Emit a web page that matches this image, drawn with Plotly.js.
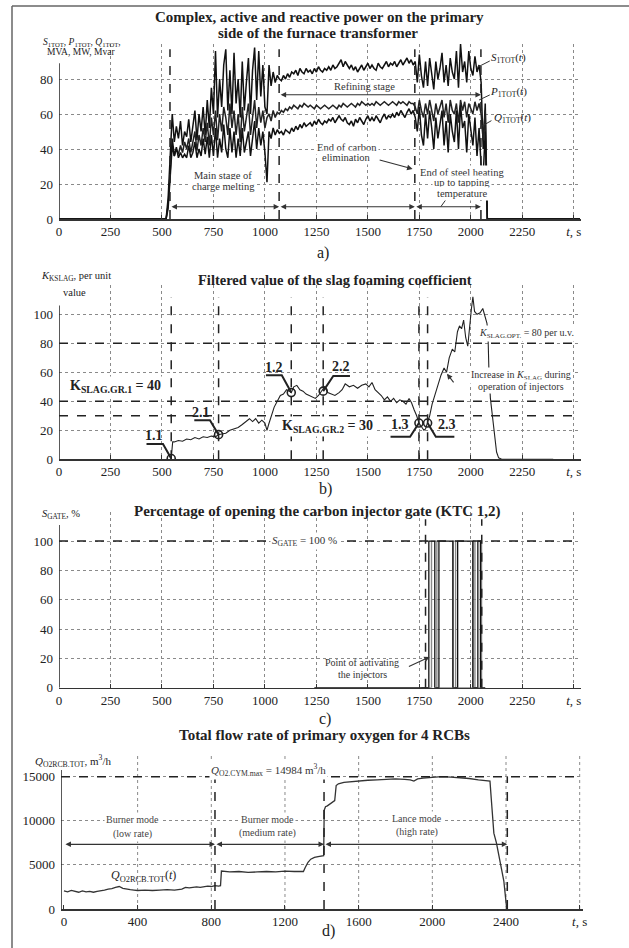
<!DOCTYPE html>
<html><head><meta charset="utf-8">
<script src="https://cdn.plot.ly/plotly-3.0.1.min.js"></script>
<style>html,body{margin:0;padding:0;background:#fff}#chart{width:629px;height:948px}</style>
</head><body><div id="chart"></div>
<script>
// ---------- Panel a: power on the primary side ----------
const timeA = [0,510,520,530,540,550,560,570,580,590,600,610,620,630,640,650,660,670,680,690,700,710,720,730,740,750,760,770,780,790,800,810,820,830,840,850,860,870,880,890,900,910,920,930,940,950,960,970,980,990,1000,1010,1020,1030,1040,1050,1060,1070,1080,1090,1100,1110,1120,1130,1140,1150,1160,1170,1180,1190,1200,1210,1220,1230,1240,1250,1260,1270,1280,1290,1300,1310,1320,1330,1340,1350,1360,1370,1380,1390,1400,1410,1420,1430,1440,1450,1460,1470,1480,1490,1500,1510,1520,1530,1540,1550,1560,1570,1580,1590,1600,1610,1620,1630,1640,1650,1660,1670,1680,1690,1700,1710,1720,1730,1740,1750,1760,1770,1780,1790,1800,1810,1820,1830,1840,1850,1860,1870,1880,1890,1900,1910,1920,1930,1940,1950,1960,1970,1980,1990,2000,2010,2020,2030,2040,2050,2060,2070,2080,2530];
const sTot = [0,0,
 0,12,35,60,44,53,46,56,42,50,
 47,57,44,52,62,45,60,50,64,48,
 68,52,75,60,96,58,80,64,88,97,
 62,85,60,95,66,80,58,90,62,78,
 92,60,85,98,68,96,70,88,64,60,
 88,76,84,78,82,80,79,82,80,83,
 81,84,83,85,82,86,84,83,86,84,
 85,83,86,84,87,85,84,86,85,87,
 85,88,86,87,89,91,87,90,88,86,
 88,85,87,84,86,88,85,87,89,86,
 88,86,85,89,87,86,88,90,87,89,
 88,90,87,89,91,88,90,92,89,91,
 88,90,78,94,82,75,90,76,92,84,
 74,90,80,86,95,78,88,76,92,84,
 80,96,75,100,84,90,78,96,86,82,
 93,84,88,78,40,66,0,
 0];
const pTot = [0,0,
 0,6,22,42,36,40,37,42,38,44,
 40,46,38,45,50,39,48,42,52,44,
 55,42,58,48,62,45,60,50,64,58,
 48,66,52,62,48,60,44,64,50,58,
 66,48,60,68,52,64,55,62,52,58,
 60,56,62,58,61,60,62,61,63,62,
 64,63,65,64,63,65,64,66,65,64,
 65,64,63,65,64,63,64,65,64,63,
 64,65,64,63,65,64,66,65,64,65,
 66,65,64,66,65,67,66,65,66,65,
 66,65,67,66,65,66,67,66,65,66,
 67,66,65,67,66,67,66,65,67,66,
 66,64,60,68,62,58,66,60,68,62,
 56,66,60,64,68,58,66,55,68,62,
 60,66,55,68,62,67,58,66,63,60,
 67,62,66,60,45,62,0,
 0];
const qTot = [0,0,
 0,8,26,46,36,41,35,38,35,37,
 35,42,35,38,44,35,40,36,46,37,
 47,35,48,36,52,35,46,38,54,40,
 35,52,38,50,35,46,36,52,38,44,
 50,36,48,56,40,52,42,50,38,21,
 50,46,52,48,51,49,50,48,51,50,
 49,52,50,53,51,54,52,55,53,54,
 55,53,56,54,57,55,54,56,55,57,
 56,58,55,57,59,57,56,58,55,54,
 56,53,57,55,58,56,54,57,59,56,
 58,56,59,57,55,58,60,57,59,58,
 60,58,61,59,62,60,58,61,63,60,
 62,58,50,64,48,42,60,46,62,52,
 40,58,46,54,62,42,56,38,60,50,
 44,62,40,65,52,56,38,60,50,42,
 58,36,52,30,25,50,0,
 0];
const stageMarksA = [539, 1069, 1728, 2049];

// ---------- Panel b: slag foaming coefficient ----------
const timeB = [545,552,560,580,600,620,640,660,680,700,720,740,760,775,790,810,830,850,870,890,910,925,940,955,970,985,1000,1010,1018,1030,1045,1060,1075,1090,1105,1118,1128,1140,1155,1170,1185,1200,1215,1230,1245,1260,1275,1290,1305,1320,1340,1360,1375,1390,1410,1430,1450,1470,1490,1505,1520,1535,1550,1565,1580,1595,1610,1625,1640,1655,1670,1685,1700,1712,1725,1737,1748,1760,1772,1780,1790,1800,1812,1825,1840,1855,1870,1882,1895,1910,1922,1935,1945,1955,1965,1975,1985,1995,2003,2010,2018,2030,2045,2058,2068,2078,2083,2088,2095,2105,2115,2125,2135,2150,2400];
const kSlag = [0.5,12,12,13,12.5,14,13.5,15,14,15.5,15,16,15.5,17,17.5,18,20,21,22,24,26,28,26,28,25,27,25,20,24,30,36,40,44,45,48,47,46,50,51,48,47,45,44,43,42,44,47,50,46,45,44,46,48,52,50,51,49,51,52,50,53,48,46,44,41,43,40,42,39,41,40,38,42,39,34,30,25,22,20,21,25,30,38,44,50,58,63,60,70,76,74,88,92,90,96,84,78,94,104,112,102,100,101,104,99,94,88,60,42,28,14,5,1,0,0];
const pointT = [545, 775, 1128, 1283, 1748, 1790];
const pointK = [0.5, 17, 46, 47, 25, 25];
const pointLabels = ['1.1','2.1','1.2','2.2','1.3','2.3'];
const kThresholds = [80, 40, 30];

// ---------- Panel c: injector gate ----------
const gateT1 = [1240,1796,1825,1845,1913,1936,2010,2034,2047,2070];
const gate1  = [0,100,0,100,0,100,0,100,0,0];
const gateT2 = [1760,1809,1835,1913,1926,2010,2020,2047,2052];
const gate2  = [0,100,0,100,0,100,0,100,0];
const gateMarks = [1780, 2053];
const gateFull = 100;

// ---------- Panel d: oxygen flow ----------
const timeD = [0,20,40,60,80,100,120,140,160,180,200,220,240,260,280,300,320,340,360,380,400,440,480,520,560,600,640,660,680,700,720,740,760,780,800,820,840,850,855,870,900,950,1000,1050,1100,1150,1200,1250,1290,1300,1310,1325,1340,1360,1380,1400,1410,1413,1420,1430,1445,1460,1470,1478,1490,1520,1560,1600,1650,1700,1750,1800,1850,1880,1900,1920,1950,2000,2050,2100,2150,2200,2250,2290,2313,2320,2327,2334,2348,2360,2367,2376,2388,2398,2403];
const qO2 = [2050,1950,2100,2000,1900,2050,1950,2000,1900,2000,2050,2150,2250,2300,2450,2550,2350,2250,2200,2150,2100,2150,2100,2150,2200,2150,2250,2450,2400,2450,2500,2450,2550,2600,2550,2650,2600,2650,4300,4250,4200,4250,4150,4200,4250,4200,4300,4250,4200,4250,4700,5300,5650,5850,5950,6000,6050,11200,11600,11700,11900,12100,12300,14000,14200,14350,14450,14550,14600,14650,14700,14750,14700,14650,14500,14750,14850,14950,15000,14950,14900,14800,14650,14550,14500,12500,10500,8600,7500,6200,5600,4800,3200,1200,200];
const modeMarksD = [820, 1412, 2407];
const qMax = 14984;

// ---------- ticks ----------
const xTicksA = [0,250,500,750,1000,1250,1500,1750,2000,2250,2500];
const xTickTextA = ['0','250','500','750','1000','1250','1500','1750','2000','2250','<i>t</i>, s'];
const yTicksA = [0,20,40,60,80,100];
const yTickTextA = ['0','20','40','60','80',' '];
const yTicksBC = [0,20,40,60,80,100,120];
const yTickTextBC = ['0','20','40','60','80','100',' '];
const xTicksD = [0,400,800,1200,1600,2000,2400,2800];
const xTickTextD = ['0','400','800','1200','1600','2000','2400','<i>t</i>, s'];
const yTicksD = [0,5000,10000,15000];
const yTickTextD = ['0','5000','10000','15000'];

// ---------- layout helpers ----------
const W = 629, H = 948;
const SERIF = 'Liberation Serif, Times New Roman, serif';
const INK = '#222';
const px = v => v / W;
const py = v => 1 - v / H;

function xAxis(domainPx, range, tv, tt, anchor, grid) {
  return {domain:[px(domainPx[0]), px(domainPx[1])], range:range, anchor:anchor,
    tickmode:'array', tickvals:tv, ticktext:tt, showgrid:grid, gridcolor:'#8a8a8a', griddash:'dot', gridwidth:1,
    zeroline:false, showline:true, linecolor:'#333', linewidth:1.5, ticks:'inside', ticklen:4, tickcolor:'#333',
    tickfont:{family:SERIF, size:13, color:INK}, ticklabelstandoff:0, fixedrange:true};
}
function yAxis(domainPx, range, tv, tt, anchor) {
  return {domain:[py(domainPx[1]), py(domainPx[0])], range:range, anchor:anchor,
    tickmode:'array', tickvals:tv, ticktext:tt, showgrid:true, gridcolor:'#8a8a8a', griddash:'dot', gridwidth:1,
    zeroline:false, showline:false, ticks:'', tickfont:{family:SERIF, size:13, color:INK}, ticklabelstandoff:5, fixedrange:true};
}

const shapes = [];
const ann = [];
function line(xr, yr, x0, y0, x1, y1, opt) {
  shapes.push(Object.assign({type:'line', xref:xr, yref:yr, x0:x0, y0:y0, x1:x1, y1:y1,
    line:{color:'#222', width:1.5}}, opt||{}));
}
function dashed(xr, yr, x0, y0, x1, y1) {
  line(xr, yr, x0, y0, x1, y1, {line:{color:'#222', width:1.5, dash:'dash'}});
}
function txt(xr, yr, x, y, text, size, opt) {
  ann.push(Object.assign({xref:xr, yref:yr, x:x, y:y, text:text, showarrow:false,
    font:{family:SERIF, size:size, color:INK}, xanchor:'center', yanchor:'middle'}, opt||{}));
}
function ptxt(x, y, text, size, opt) { txt('paper', 'paper', px(x), py(y), text, size, opt); }
function arrow(xr, yr, x0, y0, x1, y1, both) {
  const a = {xref:xr, yref:yr, axref:xr, ayref:yr, x:x1, y:y1, ax:x0, ay:y0, text:'', showarrow:true,
    arrowhead:2, arrowsize:1, arrowwidth:1.1, arrowcolor:'#333', standoff:0};
  if (both) { a.arrowside = 'end+start'; a.startarrowhead = 2; a.startarrowsize = 1; a.startstandoff = 0; }
  ann.push(a);
}
const greyTxt = {font:{family:SERIF, size:10.5, color:'#333'}};
const whiteBg = {bgcolor:'white'};

// frame
line('paper','paper', px(12), py(6), px(12), 0, {line:{color:'#666', width:1.5}});
line('paper','paper', px(12), py(6), 1, py(6), {line:{color:'#666', width:1.5}});

// ----- panel a decorations -----
line('x','y', 0, 0, 0, 89);
stageMarksA.forEach(t => dashed('x','y', t, 0, t, 97));
arrow('x','y', stageMarksA[0], 7, stageMarksA[1], 7, true);
arrow('x','y', stageMarksA[1], 7, stageMarksA[2], 7, true);
arrow('x','y', stageMarksA[2], 7, stageMarksA[3], 7, true);
arrow('x','y', stageMarksA[1], 71, stageMarksA[3], 71, true);
arrow('x','y', 1550, 34, 1717, 28.6, false);
line('x','y', 2092, 90.3, 2028, 86.5, {line:{color:'#333', width:1}});
line('x','y', 2092, 70.9, 2040, 68, {line:{color:'#333', width:1}});
line('x','y', 2100, 56.2, 2044, 52.4, {line:{color:'#333', width:1}});
line('x','y', 1878, 10.9, 1854, 7, {line:{color:'#333', width:1}});
ptxt(319, 17, '<b>Complex, active and reactive power on the primary</b>', 15);
ptxt(318, 33, '<b>side of the furnace transformer</b>', 15);
ptxt(82, 43, '<i>S</i><sub>1TOT</sub>, <i>P</i><sub>1TOT</sub>, <i>Q</i><sub>1TOT</sub>,', 9.5);
ptxt(81, 52, 'MVA, MW, Mvar', 9.5);
ptxt(323, 253, 'a)', 16);
txt('x','y', 797, 24.6, 'Main stage of', 10.5, Object.assign({}, greyTxt, whiteBg));
txt('x','y', 797, 18.3, 'charge melting', 10.5, Object.assign({}, greyTxt, whiteBg));
txt('x','y', 1485, 75.6, 'Refining stage', 10.5, greyTxt);
txt('x','y', 1398, 41, 'End of carbon', 10, Object.assign({}, greyTxt, whiteBg));
txt('x','y', 1398, 35.2, 'elimination', 10, Object.assign({}, greyTxt, whiteBg));
txt('x','y', 1959, 26.7, 'End of steel heating', 10.5, Object.assign({}, greyTxt, whiteBg));
txt('x','y', 1959, 20.6, 'up to tapping', 10.5, Object.assign({}, greyTxt, whiteBg));
txt('x','y', 1959, 14.4, 'temperature', 10.5, Object.assign({}, greyTxt, whiteBg));
txt('x','y', 2185, 92, '<i>S</i><sub>1TOT</sub>(<i>t</i>)', 11);
txt('x','y', 2185, 72.7, '<i>P</i><sub>1TOT</sub>(<i>t</i>)', 11);
txt('x','y', 2200, 57.7, '<i>Q</i><sub>1TOT</sub>(<i>t</i>)', 11);

// ----- panel b decorations -----
line('x2','y2', 0, 0, 0, 106);
kThresholds.forEach(k => dashed('x2','y2', 0, k, 2535, k));
pointT.forEach(t => dashed('x2','y2', t, 0, t, 112));
const brackets = [
  [[425,10.5],[505,10.5],[pointT[0],pointK[0]]],
  [[657,27],[733,27],[pointT[1],pointK[1]]],
  [[1005,58],[1082,58],[pointT[2],pointK[2]]],
  [[pointT[3],pointK[3]],[1332,57.5],[1413,57.5]],
  [[1610,15.6],[1705,15.6],[pointT[4],pointK[4]]],
  [[pointT[5],pointK[5]],[1830,15.6],[1920,15.6]]
];
brackets.forEach(b => shapes.push({type:'path', xref:'x2', yref:'y2',
  path:'M '+b[0][0]+','+b[0][1]+' L '+b[1][0]+','+b[1][1]+' L '+b[2][0]+','+b[2][1],
  line:{color:'#222', width:2}}));
const labelPos = [[461,16.5],[688,32.4],[1044,63.5],[1370,64],[1655,23.8],[1885,23.8]];
pointLabels.forEach((s,i) => txt('x2','y2', labelPos[i][0], labelPos[i][1], '<b>'+s+'</b>', 14));
txt('x2','y2', 272, 50, '<b>K<sub>SLAG.GR.1</sub> = 40</b>', 14, whiteBg);
txt('x2','y2', 1302, 22.8, '<b>K<sub>SLAG.GR.2</sub> = 30</b>', 14, whiteBg);
txt('x2','y2', 2272, 87, '<i>K</i><sub>SLAG.OPT.</sub> = 80 per u.v.', 10, Object.assign({}, {font:{family:SERIF,size:10,color:'#333'}}, whiteBg));
txt('x2','y2', 2246, 58, 'Increase in <i>K</i><sub>SLAG</sub> during', 10, Object.assign({}, {font:{family:SERIF,size:10,color:'#333'}}, whiteBg));
txt('x2','y2', 2246, 50, 'operation of injectors', 10, Object.assign({}, {font:{family:SERIF,size:10,color:'#333'}}, whiteBg));
arrow('x2','y2', 1922, 52, 1884, 59, false);
ptxt(335, 280, '<b>Filtered value of the slag foaming coefficient</b>', 14.5);
ptxt(76, 276, '<i>K</i><sub>KSLAG</sub>, per unit', 10.5);
ptxt(74, 292, 'value', 10.5);
ptxt(325, 489, 'b)', 16);

// ----- panel c decorations -----
line('x3','y3', 0, 0, 0, 111);
dashed('x3','y3', 0, gateFull, 2535, gateFull);
gateMarks.forEach(t => dashed('x3','y3', t, 0, t, 115));
txt('x3','y3', 1194, gateFull, '<i>S</i><sub>GATE</sub> = 100 %', 11, Object.assign({}, {font:{family:SERIF,size:11,color:'#333'}}, whiteBg));
txt('x3','y3', 1472, 17, 'Point of activating', 10, {font:{family:SERIF,size:10,color:'#333'}});
txt('x3','y3', 1472, 8.7, 'the injectors', 10, {font:{family:SERIF,size:10,color:'#333'}});
arrow('x3','y3', 1692, 14, 1800, 21, false);
ptxt(317, 511, '<b>Percentage of opening the carbon injector gate (KTC 1,2)</b>', 15);
ptxt(61, 514, '<i>S</i><sub>GATE</sub>, %', 10.5);
ptxt(325, 719, 'c)', 16);

// ----- panel d decorations -----
line('x4','y4', -16, 0, -16, 15760);
xTicksD.slice(1).forEach(t => line('x4','y4', t, 0, t, 17690, {layer:'below', line:{color:'#8a8a8a', width:1, dash:'dot'}}));
dashed('x4','y4', -16, qMax, 2818, qMax);
modeMarksD.forEach(t => dashed('x4','y4', t, 0, t, 15000));
arrow('x4','y4', 0, 7330, modeMarksD[0], 7330, true);
arrow('x4','y4', modeMarksD[0], 7330, modeMarksD[1], 7330, true);
arrow('x4','y4', modeMarksD[1], 7330, modeMarksD[2], 7330, true);
const modeTxt = Object.assign({}, {font:{family:SERIF,size:10,color:'#444'}}, whiteBg);
txt('x4','y4', 370, 10100, 'Burner mode', 10, modeTxt);
txt('x4','y4', 370, 8470, '(low rate)', 10, modeTxt);
txt('x4','y4', 1105, 10170, 'Burner mode', 10, modeTxt);
txt('x4','y4', 1105, 8580, '(medium rate)', 10, modeTxt);
txt('x4','y4', 1915, 10317, 'Lance mode', 10, modeTxt);
txt('x4','y4', 1915, 8764, '(high rate)', 10, modeTxt);
txt('x4','y4', 434, 3770, '<i>Q</i><sub>O2RCB.TOT</sub>(<i>t</i>)', 12);
txt('x4','y4', 1113, 15760, '<i>Q</i><sub>O2.CYM.max</sub> = 14984 m<sup>3</sup>/h', 11, Object.assign({}, {font:{family:SERIF,size:11,color:'#333'}}, whiteBg));
ptxt(324, 735, '<b>Total flow rate of primary oxygen for 4 RCBs</b>', 15);
ptxt(73, 761, '<i>Q</i><sub>O2RCB.TOT</sub>, m<sup>3</sup>/h', 11);
ptxt(328, 931, 'd)', 16);

// ---------- traces ----------
const traces = [
  {x:timeA, y:sTot, type:'scatter', mode:'lines', line:{color:'#111', width:1.5}, xaxis:'x', yaxis:'y', hoverinfo:'skip'},
  {x:timeA, y:pTot, type:'scatter', mode:'lines', line:{color:'#222', width:1.5}, xaxis:'x', yaxis:'y', hoverinfo:'skip'},
  {x:timeA, y:qTot, type:'scatter', mode:'lines', line:{color:'#111', width:1.5}, xaxis:'x', yaxis:'y', hoverinfo:'skip'},
  {x:timeB, y:kSlag, type:'scatter', mode:'lines', line:{color:'#222', width:1.1}, xaxis:'x2', yaxis:'y2', hoverinfo:'skip'},
  {x:pointT, y:pointK, type:'scatter', mode:'markers', marker:{symbol:'circle-open', size:8, color:'#222', line:{width:1.6}}, xaxis:'x2', yaxis:'y2', hoverinfo:'skip'},
  {x:gateT2, y:gate2, type:'scatter', mode:'lines', line:{color:'#8a8a8a', width:1.4, shape:'hv'}, xaxis:'x3', yaxis:'y3', hoverinfo:'skip'},
  {x:gateT1, y:gate1, type:'scatter', mode:'lines', line:{color:'#111', width:1.3, shape:'hv'}, xaxis:'x3', yaxis:'y3', hoverinfo:'skip'},
  {x:timeD, y:qO2, type:'scatter', mode:'lines', line:{color:'#333', width:1.3}, xaxis:'x4', yaxis:'y4', hoverinfo:'skip'}
];

const layout = {
  width:W, height:H, margin:{l:0,r:0,t:0,b:0}, showlegend:false,
  paper_bgcolor:'white', plot_bgcolor:'rgba(0,0,0,0)',
  font:{family:SERIF, color:INK},
  xaxis:  xAxis([59,581], [0,2535], xTicksA, xTickTextA, 'y', true),
  yaxis:  yAxis([44,219], [0,100], yTicksA, yTickTextA, 'x'),
  xaxis2: xAxis([59,581], [0,2535], xTicksA, xTickTextA, 'y2', true),
  yaxis2: yAxis([285.3,459.3], [0,120], yTicksBC, yTickTextBC, 'x2'),
  xaxis3: xAxis([59,581], [0,2535], xTicksA, xTickTextA, 'y3', true),
  yaxis3: yAxis([511.8,687.7], [0,120], yTicksBC, yTickTextBC, 'x3'),
  xaxis4: xAxis([61,583], [-16,2818], xTicksD, xTickTextD, 'y4', false),
  yaxis4: yAxis([753,909], [0,17690], yTicksD, yTickTextD, 'x4'),
  shapes:shapes, annotations:ann
};
Plotly.newPlot('chart', traces, layout, {displayModeBar:false, staticPlot:true});
</script></body></html>
